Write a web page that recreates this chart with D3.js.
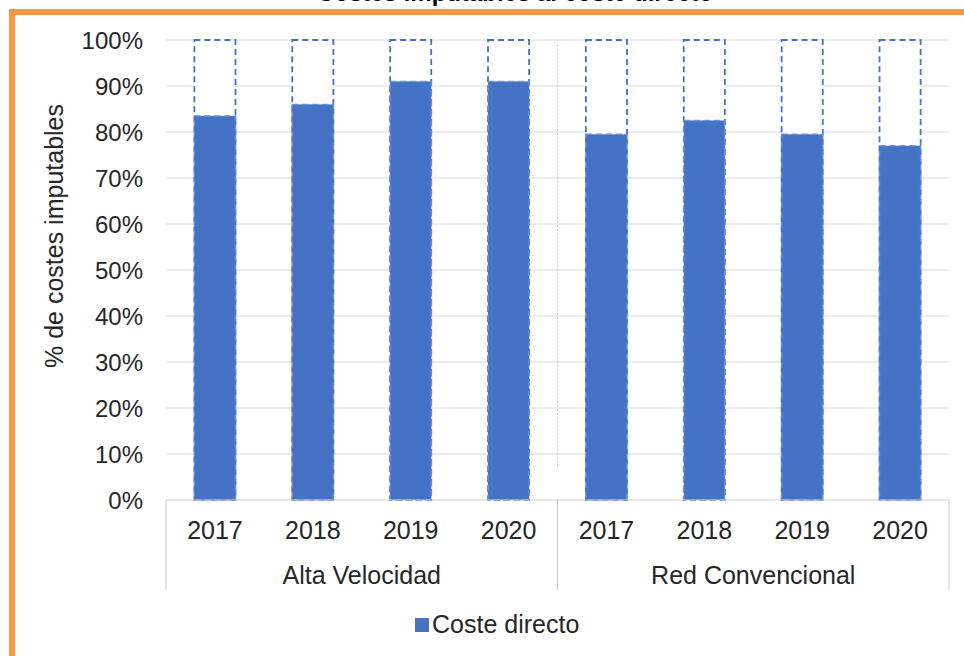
<!DOCTYPE html>
<html>
<head>
<meta charset="utf-8">
<script src="https://cdn.jsdelivr.net/npm/d3@7/dist/d3.min.js"></script>
<style>
  body { margin: 0; background: #fff; }
  svg { display: block; font-family: "Liberation Sans", Arial, sans-serif; }
</style>
</head>
<body>
<svg width="964" height="656"></svg>
<script>
var groups = ["Alta Velocidad", "Red Convencional"];
var years = ["2017", "2018", "2019", "2020"];
// % coste directo, por grupo y año
var alta = [83.5, 86, 91, 91];
var red = [79.5, 82.5, 79.5, 77];
var yTicks = [0, 10, 20, 30, 40, 50, 60, 70, 80, 90, 100];

var data = [];
groups.forEach(function(g, gi) {
    var vals = gi == 0 ? alta : red;
    years.forEach(function(y, i) {
        data.push({group: g, year: y, key: g + "|" + y, value: vals[i]});
    });
});

var svg = d3.select("svg");
var plotLeft = 166, plotRight = 949, plotTop = 40, plotBottom = 500;
var blue = "#4472c4";
var textColor = "#262626";

var x = d3.scaleBand()
        .domain(data.map(function(d) { return d.key; }))
        .range([plotLeft, plotRight])
        .paddingInner(0.58)
        .paddingOuter(0.29);
var y = d3.scaleLinear().domain([0, 100]).range([plotBottom, plotTop]);

// title (cut off by the frame)
svg.append("text")
    .attr("x", 515).attr("y", 1)
    .attr("text-anchor", "middle")
    .style("font-size", "24px").style("font-weight", "bold")
    .attr("fill", "#000")
    .text("Costes imputables al coste directo");

// orange frame
svg.append("rect")
    .attr("x", 12).attr("y", 12)
    .attr("width", 1000).attr("height", 700)
    .attr("fill", "none")
    .attr("stroke", "#f79646")
    .attr("stroke-width", 6);

// gridlines
svg.append("g").selectAll("line")
    .data(yTicks.slice(1))
    .enter().append("line")
    .attr("x1", plotLeft).attr("x2", plotRight)
    .attr("y1", function(d) { return y(d); })
    .attr("y2", function(d) { return y(d); })
    .attr("stroke", "#e6e6e6").attr("stroke-width", 1.5);

// y axis
var yAxis = svg.append("g")
    .attr("transform", "translate(" + plotLeft + ",0)")
    .call(d3.axisLeft(y).tickValues(yTicks)
          .tickFormat(function(d) { return d + "%"; })
          .tickSize(0).tickPadding(23));
yAxis.select(".domain").remove();
yAxis.selectAll("text")
    .attr("fill", textColor)
    .style("font-size", "24px")
    .attr("dy", "0.36em");

svg.append("text")
    .attr("transform", "translate(63,236) rotate(-90)")
    .attr("text-anchor", "middle")
    .style("font-size", "25px")
    .attr("fill", textColor)
    .text("% de costes imputables");

// separator between groups inside the plot
var sepX = (x(data[3].key) + x.bandwidth() + x(data[4].key)) / 2;
svg.append("line")
    .attr("x1", sepX).attr("x2", sepX)
    .attr("y1", y(99)).attr("y2", y(7))
    .attr("stroke", "#c8c8c8")
    .attr("stroke-dasharray", "2,2");

// 100% dashed outline
svg.append("g").selectAll("rect")
    .data(data)
    .enter().append("rect")
    .attr("x", function(d) { return x(d.key); })
    .attr("y", y(100))
    .attr("width", x.bandwidth())
    .attr("height", y(0) - y(100))
    .attr("fill", "#fff")
    .attr("stroke", blue)
    .attr("stroke-width", 1.8)
    .attr("stroke-dasharray", "6,4");

// coste directo bars
svg.append("g").selectAll("rect")
    .data(data)
    .enter().append("rect")
    .attr("x", function(d) { return x(d.key); })
    .attr("y", function(d) { return y(d.value); })
    .attr("width", x.bandwidth())
    .attr("height", function(d) { return y(0) - y(d.value); })
    .attr("fill", blue)
    .attr("stroke", "#6a8fd4")
    .attr("stroke-width", 1.5)
    .attr("stroke-dasharray", "6,4");

// category axis
svg.append("line")
    .attr("x1", plotLeft).attr("x2", plotRight)
    .attr("y1", plotBottom).attr("y2", plotBottom)
    .attr("stroke", "#d0d0d0").attr("stroke-width", 1.2);

var groupEdges = [plotLeft, sepX, plotRight];
svg.append("g").selectAll("line")
    .data(groupEdges)
    .enter().append("line")
    .attr("x1", function(d) { return d; })
    .attr("x2", function(d) { return d; })
    .attr("y1", plotBottom).attr("y2", 590)
    .attr("stroke", "#d0d0d0").attr("stroke-width", 1.2);

svg.append("g").selectAll("text")
    .data(data)
    .enter().append("text")
    .attr("x", function(d) { return x(d.key) + x.bandwidth() / 2; })
    .attr("y", 539)
    .attr("text-anchor", "middle")
    .style("font-size", "25px")
    .attr("fill", textColor)
    .text(function(d) { return d.year; });

svg.append("g").selectAll("text")
    .data(groups)
    .enter().append("text")
    .attr("x", function(d, i) { return (groupEdges[i] + groupEdges[i + 1]) / 2; })
    .attr("y", 584)
    .attr("text-anchor", "middle")
    .style("font-size", "25px")
    .attr("fill", textColor)
    .text(function(d) { return d; });

// legend
var legend = svg.append("g").attr("transform", "translate(415,618)");
legend.append("rect")
    .attr("width", 14).attr("height", 14)
    .attr("fill", blue);
legend.append("text")
    .attr("x", 17).attr("y", 15)
    .style("font-size", "25px")
    .attr("fill", textColor)
    .text("Coste directo");
</script>
</body>
</html>
